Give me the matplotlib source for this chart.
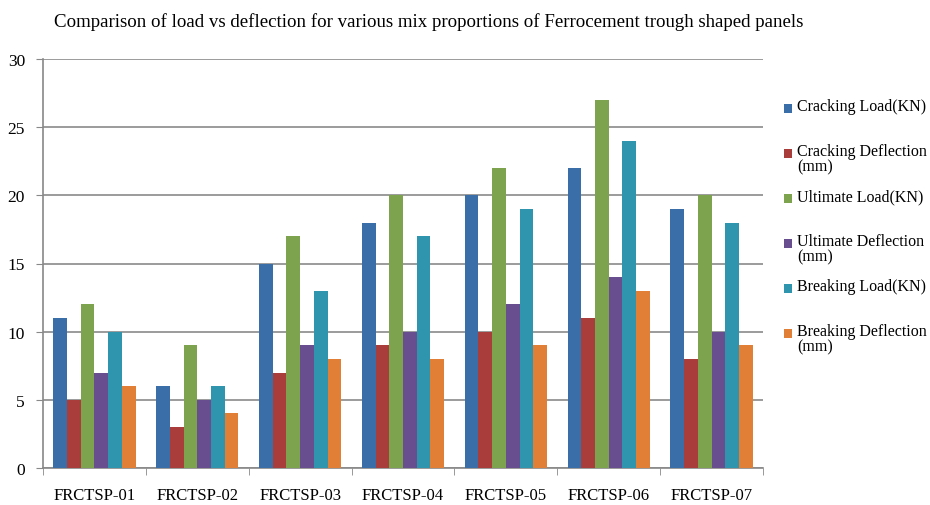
import matplotlib
matplotlib.use("Agg")
import matplotlib.pyplot as plt
import numpy as np
from matplotlib.patches import Rectangle
from matplotlib.legend_handler import HandlerPatch

categories = ["FRCTSP-01", "FRCTSP-02", "FRCTSP-03", "FRCTSP-04",
              "FRCTSP-05", "FRCTSP-06", "FRCTSP-07"]
series_names = ["Cracking Load(KN)", "Cracking Deflection\n(mm)",
                "Ultimate Load(KN)", "Ultimate Deflection\n(mm)",
                "Breaking Load(KN)", "Breaking Deflection\n(mm)"]
cracking_load = [11, 6, 15, 18, 20, 22, 19]
cracking_deflection = [5, 3, 7, 9, 10, 11, 8]
ultimate_load = [12, 9, 17, 20, 22, 27, 20]
ultimate_deflection = [7, 5, 9, 10, 12, 14, 10]
breaking_load = [10, 6, 13, 17, 19, 24, 18]
breaking_deflection = [6, 4, 8, 8, 9, 13, 9]
yticks = [0, 5, 10, 15, 20, 25, 30]

series = [cracking_load, cracking_deflection, ultimate_load,
          ultimate_deflection, breaking_load, breaking_deflection]
colors = ["#3A6EA8", "#A83D3B", "#7EA34E", "#684D8F", "#2F95AE", "#E07F35"]

plt.rcParams['font.family'] = ['Liberation Serif', 'DejaVu Serif']

fig = plt.figure(figsize=(9.3, 5.06), dpi=100)
ax = fig.add_axes([43/930, 1-469/506, (763-43)/930, (469-60)/506])

n = len(series)
group = 0.8
w = group / n
x = np.arange(len(categories))
handles = []
for i, (vals, c, name) in enumerate(zip(series, colors, series_names)):
    b = ax.bar(x - group/2 + w*(i+0.5), vals, w, color=c, zorder=3,
               label=name if "\n" in name else name + "\n ")
    handles.append(b)

ax.set_xlim(-0.5, len(categories)-0.5)
ax.set_ylim(0, 30)
ax.set_yticks(yticks)
ax.tick_params(axis='y', labelsize=12.5, length=5, color="#888888", pad=8)
ax.set_xticks(x)
ax.set_xticklabels(categories, fontsize=12)
ax.set_xticks(np.arange(len(categories)+1) - 0.5, minor=True)
ax.tick_params(axis='x', which='major', length=0, pad=14)
ax.tick_params(axis='x', which='minor', length=5, color="#888888")
ax.grid(axis='y', color="#8a8a8a", linewidth=1.2, zorder=0)
ax.set_axisbelow(True)
for s in ["top", "right"]:
    ax.spines[s].set_visible(False)
for s in ["left", "bottom"]:
    ax.spines[s].set_color("#888888")
    ax.spines[s].set_linewidth(1.2)

fig.text(429/930, 1-22/506, "Comparison of load vs deflection for various mix proportions of Ferrocement trough shaped panels",
         ha="center", va="center", fontsize=13.6)

fs = 11.5

def top_patch(legend, orig_handle, xdescent, ydescent, width, height, fontsize):
    s = 0.55 * fontsize
    return Rectangle((width - s, 0.45 * fontsize), s, s)

leg = ax.legend(handler_map={type(handles[0].patches[0]): HandlerPatch(patch_func=top_patch)},
                handles=[h.patches[0] for h in handles],
                labels=[h.get_label() for h in handles],
                loc="upper left", bbox_to_anchor=(1.0 + 7/720, 1.0 - 28/409),
                frameon=False, fontsize=fs, labelspacing=0.85,
                handlelength=0.7, handletextpad=0.3, borderaxespad=0.3)
for t in leg.get_texts():
    t.set_linespacing(0.95)
plt.savefig("out.png", dpi=100)
